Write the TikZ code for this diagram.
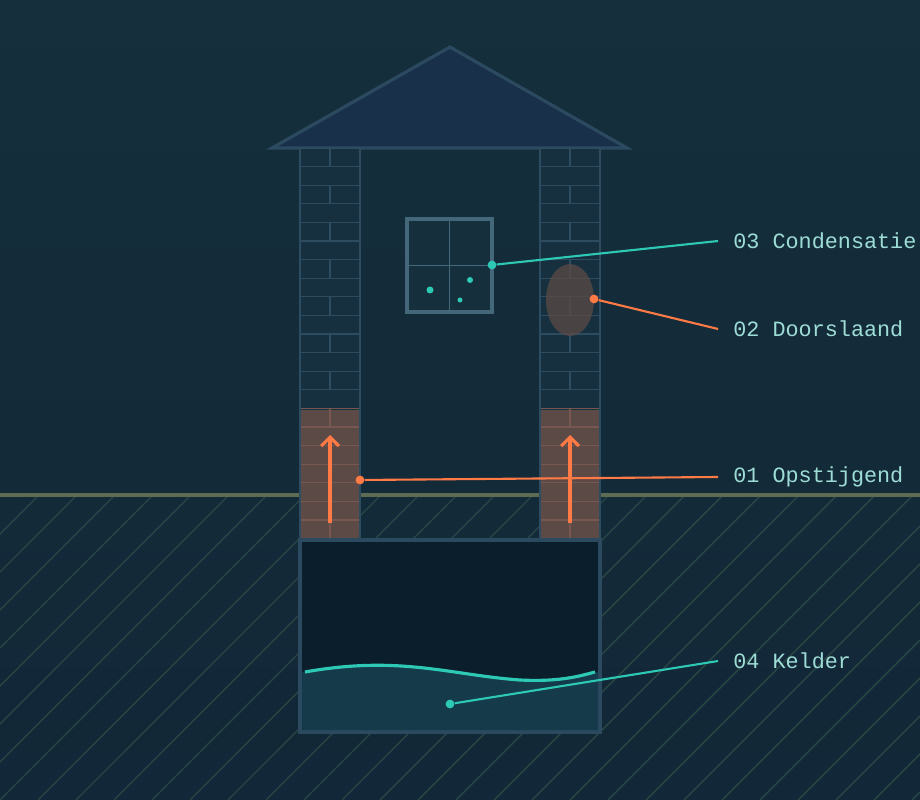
\documentclass[tikz,border=0pt]{standalone}
\usepackage{fontspec}
\setmonofont{Liberation Mono}
\definecolor{bgtop}{HTML}{152F3C}
\definecolor{bgbot}{HTML}{122737}
\definecolor{ground}{HTML}{5C6B52}
\definecolor{hatch}{HTML}{294744}
\definecolor{roof}{HTML}{18304A}
\definecolor{edge}{HTML}{2B4A60}
\definecolor{wallfill}{HTML}{17303F}
\definecolor{brick}{HTML}{2E4C5F}
\definecolor{frame}{HTML}{45677A}
\definecolor{damp}{HTML}{5C4A47}
\definecolor{damplines}{HTML}{765850}
\definecolor{cellar}{HTML}{0A1E2C}
\definecolor{water}{HTML}{153A4A}
\definecolor{teal}{HTML}{2EC9B4}
\definecolor{warm}{HTML}{FF7A45}
\definecolor{txt}{HTML}{9EDDD6}
\tikzset{
  lbl/.style={anchor=west, text=txt, font=\ttfamily\fontsize{12.4}{14}\selectfont, inner sep=0pt},
  lead/.style={line width=1.2pt},
  dot/.style={circle, fill=#1, inner sep=0pt, minimum size=5pt},
  rise/.style={warm, line width=1.8pt, -{Straight Barb[length=5pt,width=10pt,line width=1.8pt]}},
}
\usetikzlibrary{arrows.meta}
\begin{document}
\begin{tikzpicture}[x=0.02cm, y=-0.02cm]
\useasboundingbox (0,0) rectangle (920,800);
% sky and soil
\shade[top color=bgtop, bottom color=bgbot] (0,0) rectangle (920,800);
\begin{scope}
\clip (0,497) rectangle (920,800);
\foreach \i in {-12,...,24}
  \draw[hatch, line width=0.8pt] (\i*38,800) -- ++(330,-330);
\end{scope}
\draw[ground, line width=1.8pt] (0,495) -- (920,495);
% roof
\draw[fill=roof, draw=edge, line width=1.8pt, line join=miter] (272,148) -- (450,47) -- (627,148) -- cycle;
% walls
\foreach \wx in {300,540} {
  \fill[wallfill] (\wx,148) rectangle (\wx+60,410);
  \fill[damp] (\wx,410) rectangle (\wx+60,540);
  \foreach \r in {0,...,20} {
    \pgfmathsetmacro\yy{148+\r*18.6}
    \ifnum\r<14 \def\bc{brick}\else\def\bc{damplines}\fi
    \draw[\bc, line width=0.6pt] (\wx,\yy) -- (\wx+60,\yy);
    \pgfmathsetmacro\jx{mod(\r,2)==0 ? 30 : 0}
    \ifdim\jx pt>1pt
      \draw[\bc, line width=0.6pt] (\wx+\jx,\yy) -- (\wx+\jx,\yy+18.6);
    \fi
  }
  \draw[brick, line width=0.8pt] (\wx,148) rectangle (\wx+60,540);
}
% window
\draw[frame, line width=1.8pt, fill=bgtop] (407,219) rectangle (492,312);
\draw[frame, line width=1pt] (449.5,219) -- (449.5,312) (407,265.5) -- (492,265.5);
\fill[teal] (430,290) circle (3.5) (470,280) circle (3) (460,300) circle (2.5);
% damp spot
\fill[damp, opacity=0.75] (570,300) ellipse (24 and 36);
% cellar
\draw[fill=cellar, draw=edge, line width=1.8pt] (300,540) rectangle (600,732);
\fill[water] (302,672) .. controls (400,655) and (450,675) .. (520,680) .. controls (560,682) and (580,676) .. (598,672) -- (598,730) -- (302,730) -- cycle;
\draw[teal, line width=1.8pt] (305,672) .. controls (400,655) and (450,675) .. (520,680) .. controls (560,682) and (580,676) .. (595,672);
% rising damp
\draw[rise] (330,523) -- (330,435);
\draw[rise] (570,523) -- (570,435);
% labels
\node[lbl] (cond) at (733,241) {03 Condensatie};
\node[lbl] (door) at (733,329) {02 Doorslaand};
\node[lbl] (opst) at (733,477) {01 Opstijgend};
\node[lbl] (keld) at (733,661) {04 Kelder};
\node[dot=teal] (pcond) at (492,265) {};
\node[dot=warm] (pdoor) at (594,299) {};
\node[dot=warm] (popst) at (360,480) {};
\node[dot=teal] (pkeld) at (450,704) {};
\draw[lead, teal] (pcond) -- ([xshift=-8.5pt]cond.west);
\draw[lead, warm] (pdoor) -- ([xshift=-8.5pt]door.west);
\draw[lead, warm] (popst) -- ([xshift=-8.5pt]opst.west);
\draw[lead, teal] (pkeld) -- ([xshift=-8.5pt]keld.west);
\end{tikzpicture}
\end{document}
